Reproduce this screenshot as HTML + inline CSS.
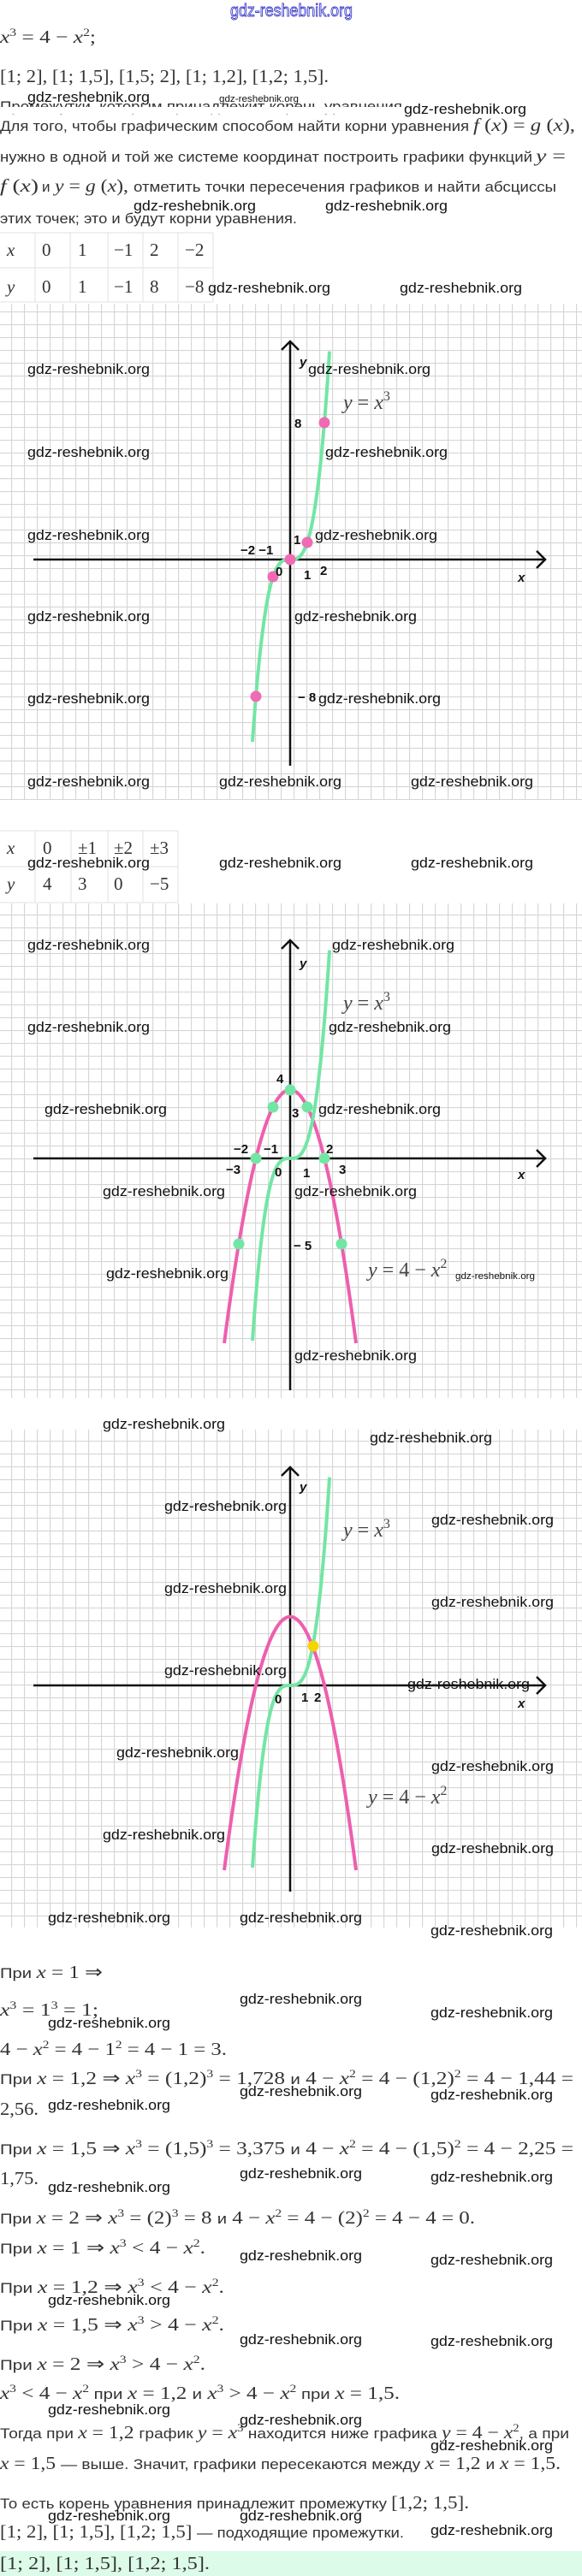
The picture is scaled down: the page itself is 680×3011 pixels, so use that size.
<!DOCTYPE html>
<html><head><meta charset="utf-8"><style>
html,body{margin:0;padding:0;background:#fff;}
svg{display:block;}
.w{font-family:"Liberation Sans",sans-serif;font-size:17px;fill:#111;}
.ws{font-family:"Liberation Sans",sans-serif;font-size:11px;fill:#111;}
.t{font-family:"Liberation Sans",sans-serif;font-size:17px;fill:#333;}
.m{font-family:"Liberation Serif",serif;font-size:21px;fill:#333;}
.mi{font-family:"Liberation Serif",serif;font-style:italic;}
.lb{font-family:"Liberation Sans",sans-serif;font-weight:bold;font-size:15px;fill:#111;}
.lab{font-family:"Liberation Serif",serif;font-size:24px;fill:#444;}
</style></head><body>
<svg width="680" height="3011" viewBox="0 0 680 3011" xmlns="http://www.w3.org/2000/svg">
<defs>
<pattern id="g" width="15" height="15" patternUnits="userSpaceOnUse" x="13" y="4">
<path d="M0 0.5H15M0.5 0V15" stroke="#d6d6d6" stroke-width="1.3" fill="none"/>
</pattern>
</defs>

<text x="269" y="19" font-family="Liberation Sans,sans-serif" font-size="20" fill="#fff" stroke="#3434c8" stroke-width="0.9" textLength="143" lengthAdjust="spacingAndGlyphs">gdz-reshebnik.org</text>

<text x="0" y="50" class="m" textLength="112" lengthAdjust="spacingAndGlyphs"><tspan class="mi">x</tspan><tspan dy="-8" font-size="13">3</tspan><tspan dy="8"> = 4 − </tspan><tspan class="mi">x</tspan><tspan dy="-8" font-size="13">2</tspan><tspan dy="8">;</tspan></text>
<text x="0" y="96" class="m" textLength="384" lengthAdjust="spacingAndGlyphs">[1; 2], [1; 1,5], [1,5; 2], [1; 1,2], [1,2; 1,5].</text>

<text x="0" y="130" class="t" textLength="470" lengthAdjust="spacingAndGlyphs">Промежутки, которым принадлежит корень уравнения</text>
<rect x="0" y="125" width="480" height="8" fill="#fff"/>
<text x="32" y="119" class="w" textLength="143" lengthAdjust="spacingAndGlyphs">gdz-reshebnik.org</text>
<text x="256" y="119" class="ws" textLength="93" lengthAdjust="spacingAndGlyphs">gdz-reshebnik.org</text>
<text x="472" y="133" class="w" textLength="143" lengthAdjust="spacingAndGlyphs">gdz-reshebnik.org</text>

<text x="0" y="153" class="t" textLength="548" lengthAdjust="spacingAndGlyphs">Для того, чтобы графическим способом найти корни уравнения</text>
<text x="553" y="153" class="m" textLength="119" lengthAdjust="spacingAndGlyphs"><tspan class="mi">f</tspan> (<tspan class="mi">x</tspan>) = <tspan class="mi">g</tspan> (<tspan class="mi">x</tspan>),</text>
<text x="0" y="189" class="t" textLength="622" lengthAdjust="spacingAndGlyphs">нужно в одной и той же системе координат построить графики функций</text>
<text x="626" y="189" class="m" textLength="35" lengthAdjust="spacingAndGlyphs"><tspan class="mi">y</tspan> =</text>
<text x="0" y="224" class="m" textLength="45" lengthAdjust="spacingAndGlyphs"><tspan class="mi">f</tspan> (<tspan class="mi">x</tspan>)</text>
<text x="49" y="224" class="t">и</text>
<text x="64" y="224" class="m" textLength="86" lengthAdjust="spacingAndGlyphs"><tspan class="mi">y</tspan> = <tspan class="mi">g</tspan> (<tspan class="mi">x</tspan>),</text>
<text x="156" y="224" class="t" textLength="494" lengthAdjust="spacingAndGlyphs">отметить точки пересечения графиков и найти абсциссы</text>
<text x="0" y="261" class="t" textLength="347" lengthAdjust="spacingAndGlyphs">этих точек; это и будут корни уравнения.</text>
<text x="156" y="246" class="w" textLength="143" lengthAdjust="spacingAndGlyphs">gdz-reshebnik.org</text>
<text x="380" y="246" class="w" textLength="143" lengthAdjust="spacingAndGlyphs">gdz-reshebnik.org</text>

<g stroke="#e2e2e2" stroke-width="1" fill="none">
<path d="M0 272H249M0 313H249M0 353H249M41 272V353M82 272V353M126 272V353M167 272V353M208 272V353M249 272V353"/>
</g>
<text x="8" y="299" class="m mi">x</text><text x="49" y="299" class="m">0</text><text x="91" y="299" class="m">1</text><text x="133" y="299" class="m">−1</text><text x="175" y="299" class="m">2</text><text x="216" y="299" class="m">−2</text>
<text x="8" y="342" class="m mi">y</text><text x="49" y="342" class="m">0</text><text x="91" y="342" class="m">1</text><text x="133" y="342" class="m">−1</text><text x="175" y="342" class="m">8</text><text x="216" y="342" class="m">−8</text>
<text x="243" y="342" class="w" textLength="143" lengthAdjust="spacingAndGlyphs">gdz-reshebnik.org</text>
<text x="467" y="342" class="w" textLength="143" lengthAdjust="spacingAndGlyphs">gdz-reshebnik.org</text>

<!-- GRID 1 -->
<rect x="0" y="355" width="680" height="580" fill="url(#g)"/>
<g stroke="#111" stroke-width="2.5" fill="none">
<path d="M39 654H637M627 644L637 654L627 664"/>
<path d="M339 895V399M329 409L339 399L349 409"/>
</g>
<path d="M295 867C325 431.4 355 886.8 385 410.7" stroke="#72e6a4" stroke-width="4" fill="none"/>
<g fill="#f06bb4">
<circle cx="379" cy="494" r="6.5"/><circle cx="359" cy="634" r="6.5"/><circle cx="339" cy="654" r="6.5"/><circle cx="319" cy="674" r="6.5"/><circle cx="299" cy="814" r="6.5"/>
</g>
<text x="350" y="428" class="lb" font-style="italic" font-size="17">y</text>
<text x="401" y="478" class="lab"><tspan class="mi">y</tspan> = <tspan class="mi">x</tspan><tspan dy="-10" font-size="16">3</tspan></text>
<text x="344" y="500" class="lb">8</text>
<text x="343" y="636" class="lb">1</text>
<text x="281" y="648" class="lb">−2 −1</text>
<text x="322" y="673" class="lb">0</text>
<text x="355" y="677" class="lb">1</text>
<text x="374" y="672" class="lb">2</text>
<text x="605" y="680" class="lb" font-style="italic" font-size="17">x</text>
<text x="348" y="820" class="lb">− 8</text>
<g class="w">
<text x="32" y="437" textLength="143" lengthAdjust="spacingAndGlyphs">gdz-reshebnik.org</text>
<text x="360" y="437" textLength="143" lengthAdjust="spacingAndGlyphs">gdz-reshebnik.org</text>
<text x="32" y="534" textLength="143" lengthAdjust="spacingAndGlyphs">gdz-reshebnik.org</text>
<text x="380" y="534" textLength="143" lengthAdjust="spacingAndGlyphs">gdz-reshebnik.org</text>
<text x="32" y="631" textLength="143" lengthAdjust="spacingAndGlyphs">gdz-reshebnik.org</text>
<text x="368" y="631" textLength="143" lengthAdjust="spacingAndGlyphs">gdz-reshebnik.org</text>
<text x="32" y="726" textLength="143" lengthAdjust="spacingAndGlyphs">gdz-reshebnik.org</text>
<text x="344" y="726" textLength="143" lengthAdjust="spacingAndGlyphs">gdz-reshebnik.org</text>
<text x="32" y="822" textLength="143" lengthAdjust="spacingAndGlyphs">gdz-reshebnik.org</text>
<text x="372" y="822" textLength="143" lengthAdjust="spacingAndGlyphs">gdz-reshebnik.org</text>
<text x="32" y="919" textLength="143" lengthAdjust="spacingAndGlyphs">gdz-reshebnik.org</text>
<text x="256" y="919" textLength="143" lengthAdjust="spacingAndGlyphs">gdz-reshebnik.org</text>
<text x="480" y="919" textLength="143" lengthAdjust="spacingAndGlyphs">gdz-reshebnik.org</text>
</g>

<g stroke="#e2e2e2" stroke-width="1" fill="none">
<path d="M0 971H208M0 1013H208M0 1055H208M41 971V1055M83 971V1055M126 971V1055M167 971V1055M208 971V1055"/>
</g>
<text x="8" y="998" class="m mi">x</text><text x="50" y="998" class="m">0</text><text x="91" y="998" class="m">±1</text><text x="133" y="998" class="m">±2</text><text x="175" y="998" class="m">±3</text>
<text x="8" y="1040" class="m mi">y</text><text x="50" y="1040" class="m">4</text><text x="91" y="1040" class="m">3</text><text x="133" y="1040" class="m">0</text><text x="175" y="1040" class="m">−5</text>

<!-- GRID 2 -->
<rect x="0" y="1056" width="680" height="578" fill="url(#g)"/>
<g stroke="#111" stroke-width="2.5" fill="none">
<path d="M39 1354H637M627 1344L637 1354L627 1364"/>
<path d="M339 1625V1099M329 1109L339 1099L349 1109"/>
</g>
<path d="M262 1570Q339 977.6 416 1570" stroke="#ee5fae" stroke-width="4" fill="none"/>
<path d="M295 1567C325 1131.4 355 1586.8 385 1110.7" stroke="#72e6a4" stroke-width="4" fill="none"/>
<g fill="#72e6a4">
<circle cx="339" cy="1274" r="6.5"/><circle cx="319" cy="1294" r="6.5"/><circle cx="359" cy="1294" r="6.5"/><circle cx="299" cy="1354" r="6.5"/><circle cx="379" cy="1354" r="6.5"/><circle cx="279" cy="1454" r="6.5"/><circle cx="399" cy="1454" r="6.5"/>
</g>
<text x="350" y="1131" class="lb" font-style="italic" font-size="17">y</text>
<text x="401" y="1180" class="lab"><tspan class="mi">y</tspan> = <tspan class="mi">x</tspan><tspan dy="-10" font-size="16">3</tspan></text>
<text x="323" y="1266" class="lb">4</text>
<text x="341" y="1306" class="lb">3</text>
<text x="273" y="1348" class="lb">−2</text><text x="308" y="1348" class="lb">−1</text>
<text x="264" y="1372" class="lb">−3</text>
<text x="321" y="1375" class="lb">0</text>
<text x="354" y="1376" class="lb">1</text>
<text x="381" y="1348" class="lb">2</text>
<text x="396" y="1372" class="lb">3</text>
<text x="605" y="1378" class="lb" font-style="italic" font-size="17">x</text>
<text x="343" y="1461" class="lb">− 5</text>
<text x="430" y="1492" class="lab"><tspan class="mi">y</tspan> = 4 − <tspan class="mi">x</tspan><tspan dy="-10" font-size="16">2</tspan></text>
<g class="w">
<text x="32" y="1014" textLength="143" lengthAdjust="spacingAndGlyphs">gdz-reshebnik.org</text>
<text x="256" y="1014" textLength="143" lengthAdjust="spacingAndGlyphs">gdz-reshebnik.org</text>
<text x="480" y="1014" textLength="143" lengthAdjust="spacingAndGlyphs">gdz-reshebnik.org</text>
<text x="32" y="1110" textLength="143" lengthAdjust="spacingAndGlyphs">gdz-reshebnik.org</text>
<text x="388" y="1110" textLength="143" lengthAdjust="spacingAndGlyphs">gdz-reshebnik.org</text>
<text x="32" y="1206" textLength="143" lengthAdjust="spacingAndGlyphs">gdz-reshebnik.org</text>
<text x="384" y="1206" textLength="143" lengthAdjust="spacingAndGlyphs">gdz-reshebnik.org</text>
<text x="52" y="1302" textLength="143" lengthAdjust="spacingAndGlyphs">gdz-reshebnik.org</text>
<text x="372" y="1302" textLength="143" lengthAdjust="spacingAndGlyphs">gdz-reshebnik.org</text>
<text x="120" y="1398" textLength="143" lengthAdjust="spacingAndGlyphs">gdz-reshebnik.org</text>
<text x="344" y="1398" textLength="143" lengthAdjust="spacingAndGlyphs">gdz-reshebnik.org</text>
<text x="124" y="1494" textLength="143" lengthAdjust="spacingAndGlyphs">gdz-reshebnik.org</text>
<text x="344" y="1590" textLength="143" lengthAdjust="spacingAndGlyphs">gdz-reshebnik.org</text>
</g>
<text x="532" y="1495" class="ws" textLength="93" lengthAdjust="spacingAndGlyphs">gdz-reshebnik.org</text>

<!-- GRID 3 -->
<rect x="0" y="1671" width="680" height="582" fill="url(#g)"/>
<g stroke="#111" stroke-width="2.5" fill="none">
<path d="M39 1970H637M627 1960L637 1970L627 1980"/>
<path d="M339 2211V1715M329 1725L339 1715L349 1725"/>
</g>
<path d="M262 2186Q339 1593.6 416 2186" stroke="#ee5fae" stroke-width="4" fill="none"/>
<path d="M295 2183C325 1747.4 355 2202.8 385 1726.7" stroke="#72e6a4" stroke-width="4" fill="none"/>
<circle cx="366" cy="1924" r="6.5" fill="#f5d400"/>
<text x="350" y="1743" class="lb" font-style="italic" font-size="17">y</text>
<text x="401" y="1796" class="lab"><tspan class="mi">y</tspan> = <tspan class="mi">x</tspan><tspan dy="-10" font-size="16">3</tspan></text>
<text x="321" y="1991" class="lb">0</text>
<text x="352" y="1989" class="lb">1</text>
<text x="367" y="1989" class="lb">2</text>
<text x="605" y="1996" class="lb" font-style="italic" font-size="17">x</text>
<text x="430" y="2108" class="lab"><tspan class="mi">y</tspan> = 4 − <tspan class="mi">x</tspan><tspan dy="-10" font-size="16">2</tspan></text>
<g class="w">
<text x="120" y="1670" textLength="143" lengthAdjust="spacingAndGlyphs">gdz-reshebnik.org</text>
<text x="432" y="1686" textLength="143" lengthAdjust="spacingAndGlyphs">gdz-reshebnik.org</text>
<text x="192" y="1766" textLength="143" lengthAdjust="spacingAndGlyphs">gdz-reshebnik.org</text>
<text x="504" y="1782" textLength="143" lengthAdjust="spacingAndGlyphs">gdz-reshebnik.org</text>
<text x="192" y="1862" textLength="143" lengthAdjust="spacingAndGlyphs">gdz-reshebnik.org</text>
<text x="504" y="1878" textLength="143" lengthAdjust="spacingAndGlyphs">gdz-reshebnik.org</text>
<text x="192" y="1958" textLength="143" lengthAdjust="spacingAndGlyphs">gdz-reshebnik.org</text>
<text x="476" y="1974" textLength="143" lengthAdjust="spacingAndGlyphs">gdz-reshebnik.org</text>
<text x="136" y="2054" textLength="143" lengthAdjust="spacingAndGlyphs">gdz-reshebnik.org</text>
<text x="504" y="2070" textLength="143" lengthAdjust="spacingAndGlyphs">gdz-reshebnik.org</text>
<text x="120" y="2150" textLength="143" lengthAdjust="spacingAndGlyphs">gdz-reshebnik.org</text>
<text x="504" y="2166" textLength="143" lengthAdjust="spacingAndGlyphs">gdz-reshebnik.org</text>
<text x="56" y="2247" textLength="143" lengthAdjust="spacingAndGlyphs">gdz-reshebnik.org</text>
<text x="280" y="2247" textLength="143" lengthAdjust="spacingAndGlyphs">gdz-reshebnik.org</text>
<text x="503" y="2262" textLength="143" lengthAdjust="spacingAndGlyphs">gdz-reshebnik.org</text>
</g>

<g>
<text x="0" y="2312" class="m" textLength="120" lengthAdjust="spacingAndGlyphs"><tspan class="t">При </tspan><tspan class="mi">x</tspan> = 1 ⇒</text>
<text x="0" y="2356" class="m" textLength="115" lengthAdjust="spacingAndGlyphs"><tspan class="mi">x</tspan><tspan dy="-8" font-size="13">3</tspan><tspan dy="8"> = 1</tspan><tspan dy="-8" font-size="13">3</tspan><tspan dy="8"> = 1;</tspan></text>
<text x="0" y="2402" class="m" textLength="265" lengthAdjust="spacingAndGlyphs">4 − <tspan class="mi">x</tspan><tspan dy="-8" font-size="13">2</tspan><tspan dy="8"> = 4 − 1</tspan><tspan dy="-8" font-size="13">2</tspan><tspan dy="8"> = 4 − 1 = 3.</tspan></text>
<text x="0" y="2436" class="m" textLength="670" lengthAdjust="spacingAndGlyphs"><tspan class="t">При </tspan><tspan class="mi">x</tspan> = 1,2 ⇒ <tspan class="mi">x</tspan><tspan dy="-8" font-size="13">3</tspan><tspan dy="8"> = (1,2)</tspan><tspan dy="-8" font-size="13">3</tspan><tspan dy="8"> = 1,728 </tspan><tspan class="t">и</tspan> 4 − <tspan class="mi">x</tspan><tspan dy="-8" font-size="13">2</tspan><tspan dy="8"> = 4 − (1,2)</tspan><tspan dy="-8" font-size="13">2</tspan><tspan dy="8"> = 4 − 1,44 =</tspan></text>
<text x="0" y="2472" class="m" textLength="45" lengthAdjust="spacingAndGlyphs">2,56.</text>
<text x="0" y="2518" class="m" textLength="670" lengthAdjust="spacingAndGlyphs"><tspan class="t">При </tspan><tspan class="mi">x</tspan> = 1,5 ⇒ <tspan class="mi">x</tspan><tspan dy="-8" font-size="13">3</tspan><tspan dy="8"> = (1,5)</tspan><tspan dy="-8" font-size="13">3</tspan><tspan dy="8"> = 3,375 </tspan><tspan class="t">и</tspan> 4 − <tspan class="mi">x</tspan><tspan dy="-8" font-size="13">2</tspan><tspan dy="8"> = 4 − (1,5)</tspan><tspan dy="-8" font-size="13">2</tspan><tspan dy="8"> = 4 − 2,25 =</tspan></text>
<text x="0" y="2553" class="m" textLength="45" lengthAdjust="spacingAndGlyphs">1,75.</text>
<text x="0" y="2599" class="m" textLength="555" lengthAdjust="spacingAndGlyphs"><tspan class="t">При </tspan><tspan class="mi">x</tspan> = 2 ⇒ <tspan class="mi">x</tspan><tspan dy="-8" font-size="13">3</tspan><tspan dy="8"> = (2)</tspan><tspan dy="-8" font-size="13">3</tspan><tspan dy="8"> = 8 </tspan><tspan class="t">и</tspan> 4 − <tspan class="mi">x</tspan><tspan dy="-8" font-size="13">2</tspan><tspan dy="8"> = 4 − (2)</tspan><tspan dy="-8" font-size="13">2</tspan><tspan dy="8"> = 4 − 4 = 0.</tspan></text>
<text x="0" y="2634" class="m" textLength="240" lengthAdjust="spacingAndGlyphs"><tspan class="t">При </tspan><tspan class="mi">x</tspan> = 1 ⇒ <tspan class="mi">x</tspan><tspan dy="-8" font-size="13">3</tspan><tspan dy="8"> &lt; 4 − </tspan><tspan class="mi">x</tspan><tspan dy="-8" font-size="13">2</tspan><tspan dy="8">.</tspan></text>
<text x="0" y="2680" class="m" textLength="262" lengthAdjust="spacingAndGlyphs"><tspan class="t">При </tspan><tspan class="mi">x</tspan> = 1,2 ⇒ <tspan class="mi">x</tspan><tspan dy="-8" font-size="13">3</tspan><tspan dy="8"> &lt; 4 − </tspan><tspan class="mi">x</tspan><tspan dy="-8" font-size="13">2</tspan><tspan dy="8">.</tspan></text>
<text x="0" y="2724" class="m" textLength="262" lengthAdjust="spacingAndGlyphs"><tspan class="t">При </tspan><tspan class="mi">x</tspan> = 1,5 ⇒ <tspan class="mi">x</tspan><tspan dy="-8" font-size="13">3</tspan><tspan dy="8"> &gt; 4 − </tspan><tspan class="mi">x</tspan><tspan dy="-8" font-size="13">2</tspan><tspan dy="8">.</tspan></text>
<text x="0" y="2770" class="m" textLength="240" lengthAdjust="spacingAndGlyphs"><tspan class="t">При </tspan><tspan class="mi">x</tspan> = 2 ⇒ <tspan class="mi">x</tspan><tspan dy="-8" font-size="13">3</tspan><tspan dy="8"> &gt; 4 − </tspan><tspan class="mi">x</tspan><tspan dy="-8" font-size="13">2</tspan><tspan dy="8">.</tspan></text>
<text x="0" y="2804" class="m" textLength="467" lengthAdjust="spacingAndGlyphs"><tspan class="mi">x</tspan><tspan dy="-8" font-size="13">3</tspan><tspan dy="8"> &lt; 4 − </tspan><tspan class="mi">x</tspan><tspan dy="-8" font-size="13">2</tspan><tspan dy="8" class="t"> при </tspan><tspan class="mi">x</tspan> = 1,2 <tspan class="t">и</tspan> <tspan class="mi">x</tspan><tspan dy="-8" font-size="13">3</tspan><tspan dy="8"> &gt; 4 − </tspan><tspan class="mi">x</tspan><tspan dy="-8" font-size="13">2</tspan><tspan dy="8" class="t"> при </tspan><tspan class="mi">x</tspan> = 1,5.</text>
<text x="0" y="2850" class="m" textLength="665" lengthAdjust="spacingAndGlyphs"><tspan class="t">Тогда при </tspan><tspan class="mi">x</tspan> = 1,2 <tspan class="t">график </tspan><tspan class="mi">y</tspan> = <tspan class="mi">x</tspan><tspan dy="-8" font-size="13">3</tspan><tspan dy="8" class="t"> находится ниже графика </tspan><tspan class="mi">y</tspan> = 4 − <tspan class="mi">x</tspan><tspan dy="-8" font-size="13">2</tspan><tspan dy="8" class="t">, а при</tspan></text>
<text x="0" y="2886" class="m" textLength="655" lengthAdjust="spacingAndGlyphs"><tspan class="mi">x</tspan> = 1,5 <tspan class="t">— выше. Значит, графики пересекаются между </tspan><tspan class="mi">x</tspan> = 1,2 <tspan class="t">и</tspan> <tspan class="mi">x</tspan> = 1,5.</text>
<text x="0" y="2932" class="m" textLength="548" lengthAdjust="spacingAndGlyphs"><tspan class="t">То есть корень уравнения принадлежит промежутку </tspan>[1,2; 1,5].</text>
<text x="0" y="2966" class="m" textLength="472" lengthAdjust="spacingAndGlyphs">[1; 2], [1; 1,5], [1,2; 1,5] <tspan class="t">— подходящие промежутки.</tspan></text>
<rect x="0" y="2982" width="680" height="29" fill="#dcfbe8"/>
<text x="0" y="3003" class="m" textLength="245" lengthAdjust="spacingAndGlyphs">[1; 2], [1; 1,5], [1,2; 1,5].</text>
</g>
<g class="w">
<text x="280" y="2342" textLength="143" lengthAdjust="spacingAndGlyphs">gdz-reshebnik.org</text>
<text x="503" y="2358" textLength="143" lengthAdjust="spacingAndGlyphs">gdz-reshebnik.org</text>
<text x="56" y="2370" textLength="143" lengthAdjust="spacingAndGlyphs">gdz-reshebnik.org</text>
<text x="280" y="2450" textLength="143" lengthAdjust="spacingAndGlyphs">gdz-reshebnik.org</text>
<text x="503" y="2454" textLength="143" lengthAdjust="spacingAndGlyphs">gdz-reshebnik.org</text>
<text x="56" y="2466" textLength="143" lengthAdjust="spacingAndGlyphs">gdz-reshebnik.org</text>
<text x="280" y="2546" textLength="143" lengthAdjust="spacingAndGlyphs">gdz-reshebnik.org</text>
<text x="503" y="2550" textLength="143" lengthAdjust="spacingAndGlyphs">gdz-reshebnik.org</text>
<text x="56" y="2562" textLength="143" lengthAdjust="spacingAndGlyphs">gdz-reshebnik.org</text>
<text x="280" y="2642" textLength="143" lengthAdjust="spacingAndGlyphs">gdz-reshebnik.org</text>
<text x="503" y="2647" textLength="143" lengthAdjust="spacingAndGlyphs">gdz-reshebnik.org</text>
<text x="56" y="2694" textLength="143" lengthAdjust="spacingAndGlyphs">gdz-reshebnik.org</text>
<text x="280" y="2740" textLength="143" lengthAdjust="spacingAndGlyphs">gdz-reshebnik.org</text>
<text x="503" y="2742" textLength="143" lengthAdjust="spacingAndGlyphs">gdz-reshebnik.org</text>
<text x="56" y="2822" textLength="143" lengthAdjust="spacingAndGlyphs">gdz-reshebnik.org</text>
<text x="280" y="2834" textLength="143" lengthAdjust="spacingAndGlyphs">gdz-reshebnik.org</text>
<text x="503" y="2864" textLength="143" lengthAdjust="spacingAndGlyphs">gdz-reshebnik.org</text>
<text x="56" y="2946" textLength="143" lengthAdjust="spacingAndGlyphs">gdz-reshebnik.org</text>
<text x="280" y="2946" textLength="143" lengthAdjust="spacingAndGlyphs">gdz-reshebnik.org</text>
<text x="503" y="2963" textLength="143" lengthAdjust="spacingAndGlyphs">gdz-reshebnik.org</text>
</g>
</svg>
</body></html>
